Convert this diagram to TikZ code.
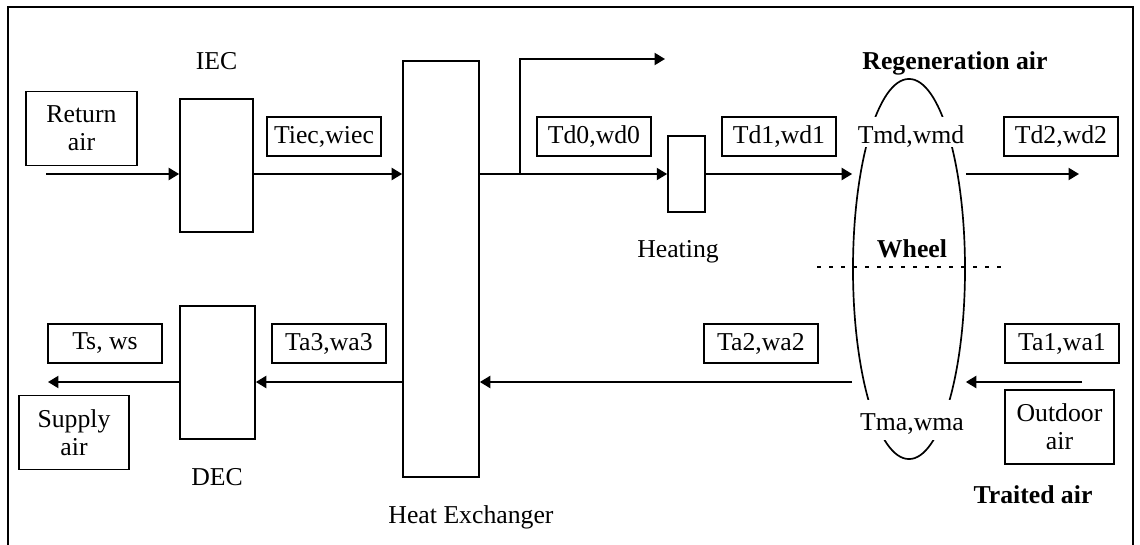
\documentclass[tikz,border=0pt]{standalone}
\usepackage{fontspec}
\setmainfont{Liberation Serif}
\usetikzlibrary{positioning, arrows.meta, shapes.geometric}

\begin{document}
\begin{tikzpicture}[x=0.025cm, y=-0.025cm, font=\fontsize{18.3}{20}\selectfont,
  box/.style={draw,line width=1.2pt,align=center,inner sep=0pt,minimum width=2.775cm,minimum height=1.85cm},
  unit/.style={draw,line width=1.2pt,inner sep=0pt},
  val/.style={draw,line width=1.1pt,inner sep=0pt,minimum width=2.85cm,minimum height=0.975cm},
  txt/.style={anchor=base,inner sep=0pt},
  hd/.style={anchor=base,inner sep=0pt,font=\fontsize{18.3}{20}\selectfont\bfseries},
  mix/.style={anchor=base,fill=white,inner xsep=2pt,inner ysep=0pt},
  arr/.style={-{Triangle[length=0.26cm,width=0.3cm]},line width=1.4pt}]
  \useasboundingbox (0,0) rectangle (1140,545);
  \draw[line width=1.2pt] (8,545) |- (1133,7) -- (1133,545);
  \node[box] (ret) at (81.5,128.5) {Return\\air};
  \node[unit,minimum width=1.825cm,minimum height=3.325cm] (iec) at (216.5,165.5) {};
  \node[txt] (iecl) at (216.5,70) {IEC};
  \node[val] (tiec) at (324,136.5) {Tiec,wiec};
  \node[unit,minimum width=1.9cm,minimum height=10.4cm] (hx) at (441,269) {};
  \node[txt] (hxl) at (471,523) {Heat Exchanger};
  \node[val] (td0) at (594,136.5) {Td0,wd0};
  \node[unit,minimum width=0.925cm,minimum height=1.9cm] (heat) at (686.5,174) {};
  \node[txt] (heatl) at (678,257) {Heating};
  \node[val] (td1) at (779,136.5) {Td1,wd1};
  \node[draw,ellipse,line width=1.2pt,minimum width=2.8cm,minimum height=9.5cm,inner sep=0pt] (wheel) at (909,269) {};
  \node[hd] (regen) at (955,70) {Regeneration air};
  \node[mix,text height=0.675cm,text depth=0.075cm] (tmd) at (911,144) {Tmd,wmd};
  \node[hd] (wheell) at (912,257) {Wheel};
  \node[mix,text height=0.75cm,text depth=0.25cm] (tma) at (912,430) {Tma,wma};
  \node[val] (td2) at (1061,136.5) {Td2,wd2};
  \node[val] (ta1) at (1062,343.5) {Ta1,wa1};
  \node[box,minimum width=2.725cm] (out) at (1059.5,427) {Outdoor\\air};
  \node[hd] (trt) at (1033,503) {Traited air};
  \node[val] (ta2) at (761,343.5) {Ta2,wa2};
  \node[val] (ta3) at (329,343.5) {Ta3,wa3};
  \node[unit,minimum width=1.875cm,minimum height=3.325cm] (dec) at (217.5,372.5) {};
  \node[txt] (decl) at (217,485) {DEC};
  \node[val] (ts) at (105,343.5) {Ts, ws};
  \node[box,minimum width=2.75cm] (sup) at (74,432.5) {Supply\\air};
  \coordinate (rin) at (46,174); \coordinate (split) at (520,174); \coordinate (exh) at (665,59);
  \coordinate (dout) at (1079,174); \coordinate (oin) at (1082,382); \coordinate (sout) at (48,382);
  \coordinate (dl) at (817,267); \coordinate (dr) at (1005,267);
  \draw[arr] (rin) -- (iec.west |- rin); \draw[arr] (iec.east |- rin) -- (hx.west |- rin); \draw[arr] (hx.east |- rin) -- (heat.west); \draw[arr] (split) |- (exh);
  \draw[arr] (heat.east) -- (wheel.west |- heat.east); \draw[arr] (wheel.east |- heat.east) -- (dout);
  \draw[arr] (oin) -- (wheel.east |- oin); \draw[arr] (wheel.west |- oin) -- (hx.east |- oin); \draw[arr] (hx.west |- oin) -- (dec.east |- oin); \draw[arr] (dec.west |- oin) -- (sout);
  \draw[line width=1.2pt,dash pattern=on 0.1cm off 0.2cm] (dl) -- (dr);
\end{tikzpicture}
\end{document}
